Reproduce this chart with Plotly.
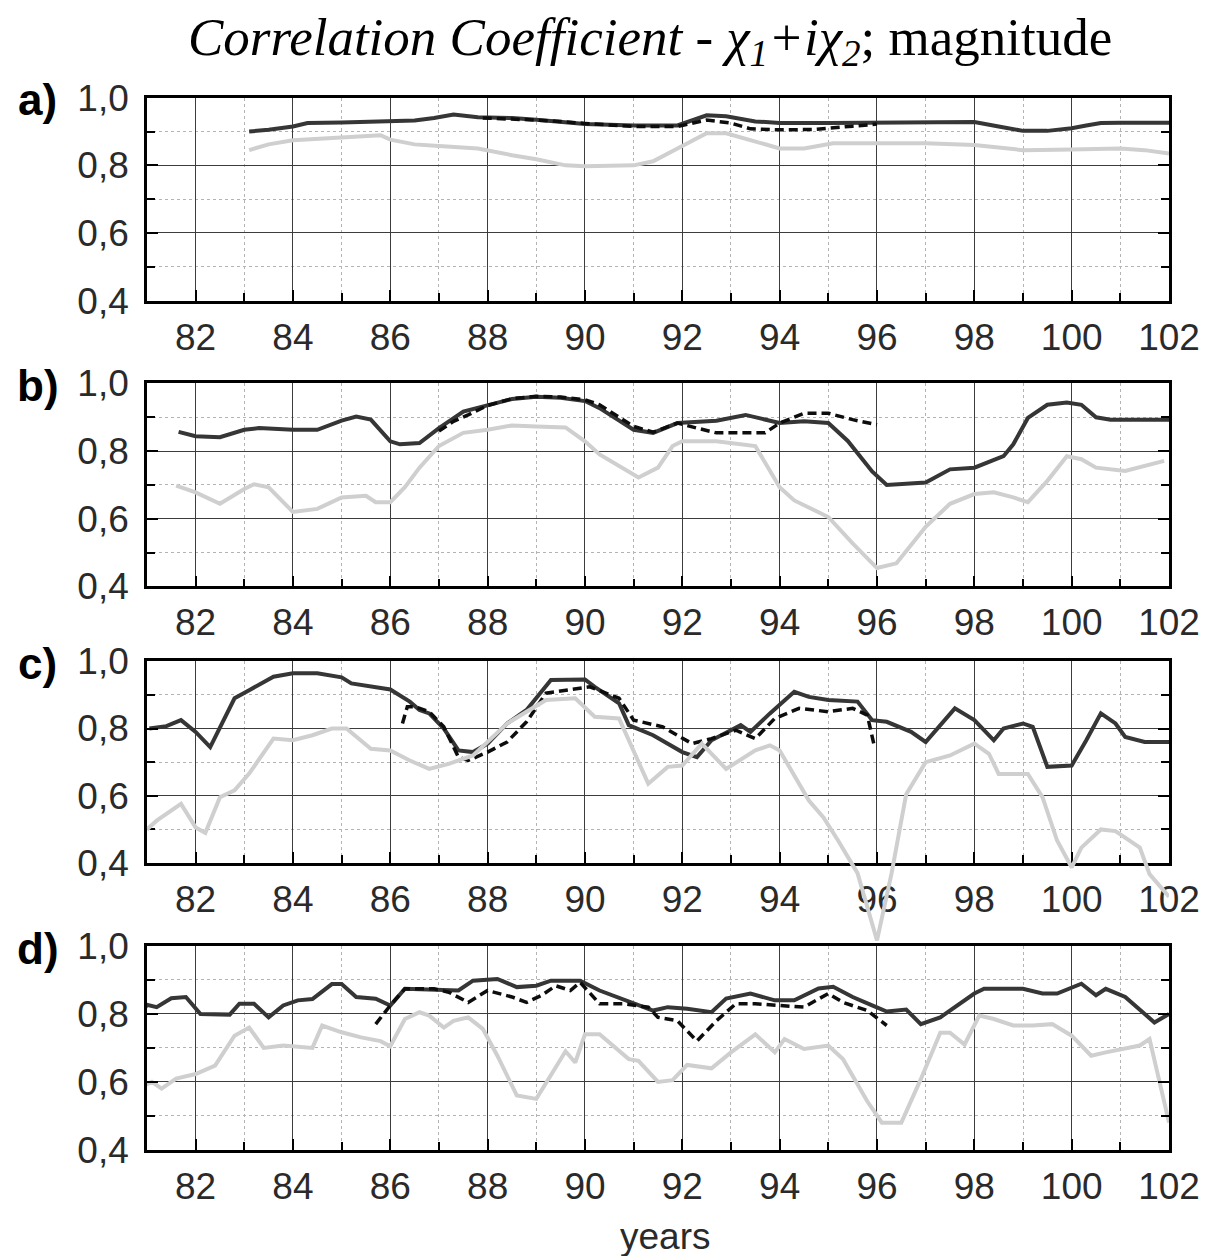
import plotly.graph_objects as go

# ---------------- tick labels / categories ----------------
year_ticks = [82, 84, 86, 88, 90, 92, 94, 96, 98, 100, 102]
year_labels = ["82", "84", "86", "88", "90", "92", "94", "96", "98", "100", "102"]
corr_ticks = [0.4, 0.6, 0.8, 1.0]
corr_labels = ["0,4", "0,6", "0,8", "1,0"]
panel_labels = ["a)", "b)", "c)", "d)"]

# ---------------- panel a ----------------
a_dark_x = [83.1, 83.5, 84.0, 84.3, 85.0, 86.0, 86.5, 86.9, 87.3, 87.8, 88.5, 89.0, 90.0, 91.0, 91.9, 92.5,
            92.9, 93.5, 94.0, 95.0, 96.0, 97.0, 98.0, 98.5, 99.0, 99.5, 100.0, 100.3, 100.6, 101.0, 102.0]
a_dark_y = [0.900, 0.905, 0.915, 0.925, 0.927, 0.930, 0.933, 0.940, 0.950, 0.942, 0.940, 0.935, 0.922, 0.918,
            0.918, 0.948, 0.945, 0.930, 0.925, 0.925, 0.926, 0.926, 0.928, 0.915, 0.902, 0.902, 0.910, 0.918,
            0.925, 0.926, 0.926]
a_light_x = [83.1, 83.5, 84.0, 85.0, 85.8, 86.0, 86.5, 87.0, 87.8, 88.5, 89.0, 89.6, 90.0, 91.0, 91.4, 91.9,
             92.5, 92.9, 93.5, 94.0, 94.5, 95.1, 96.0, 97.0, 98.0, 99.0, 100.0, 101.0, 101.5, 102.0]
a_light_y = [0.845, 0.862, 0.874, 0.881, 0.889, 0.876, 0.862, 0.857, 0.850, 0.830, 0.818, 0.800, 0.797, 0.800,
             0.812, 0.850, 0.895, 0.895, 0.870, 0.850, 0.850, 0.865, 0.865, 0.865, 0.860, 0.845, 0.847, 0.850,
             0.845, 0.835]
a_dash_x = [87.9, 88.5, 89.0, 89.5, 90.0, 91.0, 91.9, 92.5, 93.0, 93.4, 94.0, 94.7, 95.1, 95.5, 96.0]
a_dash_y = [0.940, 0.938, 0.934, 0.930, 0.924, 0.915, 0.915, 0.934, 0.925, 0.908, 0.905, 0.906, 0.912, 0.916,
            0.922]

# ---------------- panel b ----------------
b_dark_x = [81.65, 82.0, 82.5, 83.0, 83.3, 84.0, 84.5, 85.0, 85.3, 85.6, 86.0, 86.2, 86.6, 87.0, 87.5, 88.0,
            88.5, 89.0, 89.5, 90.0, 90.3, 91.0, 91.4, 91.9, 92.7, 93.3, 94.0, 94.5, 95.0, 95.4, 95.9, 96.2,
            97.0, 97.5, 98.0, 98.6, 98.8, 99.1, 99.5, 99.9, 100.2, 100.5, 100.8, 102.0]
b_dark_y = [0.857, 0.844, 0.841, 0.863, 0.868, 0.863, 0.863, 0.890, 0.902, 0.893, 0.829, 0.820, 0.824, 0.868,
            0.917, 0.937, 0.954, 0.961, 0.958, 0.948, 0.927, 0.863, 0.854, 0.883, 0.890, 0.907, 0.883, 0.888,
            0.883, 0.830, 0.740, 0.700, 0.707, 0.746, 0.751, 0.785, 0.820, 0.898, 0.937, 0.944, 0.937, 0.900,
            0.893, 0.893]
b_light_x = [81.6, 82.0, 82.5, 83.0, 83.2, 83.5, 84.0, 84.5, 85.0, 85.5, 85.7, 86.0, 86.3, 86.6, 87.0, 87.5,
             88.0, 88.5, 89.0, 89.6, 90.0, 90.3, 91.1, 91.5, 91.8, 92.0, 92.7, 93.5, 94.0, 94.3, 95.0, 95.5,
             96.0, 96.4, 97.0, 97.5, 98.0, 98.4, 98.8, 99.1, 99.5, 99.9, 100.2, 100.5, 101.1, 101.9]
b_light_y = [0.698, 0.678, 0.644, 0.688, 0.702, 0.693, 0.620, 0.629, 0.663, 0.668, 0.649, 0.649, 0.693, 0.751,
             0.815, 0.854, 0.863, 0.876, 0.873, 0.870, 0.829, 0.790, 0.722, 0.751, 0.815, 0.829, 0.829, 0.815,
             0.693, 0.654, 0.605, 0.527, 0.454, 0.468, 0.576, 0.644, 0.673, 0.678, 0.663, 0.649, 0.712, 0.785,
             0.776, 0.751, 0.741, 0.771]
b_dash_x = [87.0, 87.3, 87.6, 88.0, 88.5, 89.0, 89.5, 90.0, 90.3, 91.0, 91.4, 91.9, 92.3, 92.7, 93.7, 94.0,
            94.5, 95.0, 95.5, 96.0]
b_dash_y = [0.859, 0.888, 0.907, 0.935, 0.955, 0.962, 0.960, 0.952, 0.937, 0.873, 0.856, 0.883, 0.868, 0.854,
            0.854, 0.883, 0.912, 0.912, 0.893, 0.878]

# ---------------- panel c ----------------
c_dark_x = [81.05, 81.4, 81.7, 82.0, 82.3, 82.8, 83.1, 83.6, 84.0, 84.5, 85.0, 85.2, 86.0, 86.4, 86.6, 86.8,
            87.1, 87.4, 87.7, 88.0, 88.4, 88.8, 89.3, 90.0, 90.2, 90.7, 90.9, 91.4, 92.0, 92.3, 92.6, 93.2,
            93.4, 93.8, 94.3, 94.6, 95.0, 95.6, 95.9, 96.2, 96.7, 97.0, 97.6, 98.0, 98.4, 98.6, 99.0, 99.2,
            99.5, 100.0, 100.3, 100.6, 100.9, 101.1, 101.5, 102.0]
c_dark_y = [0.800, 0.807, 0.825, 0.790, 0.745, 0.890, 0.914, 0.954, 0.964, 0.964, 0.952, 0.934, 0.916, 0.880,
            0.855, 0.845, 0.800, 0.735, 0.730, 0.755, 0.815, 0.855, 0.944, 0.946, 0.924, 0.875, 0.810, 0.780,
            0.730, 0.715, 0.765, 0.810, 0.790, 0.845, 0.909, 0.894, 0.885, 0.880, 0.825, 0.820, 0.790, 0.760,
            0.860, 0.825, 0.765, 0.800, 0.815, 0.805, 0.686, 0.690, 0.765, 0.845, 0.815, 0.775, 0.760, 0.760]
c_light_x = [81.0, 81.2, 81.7, 82.0, 82.2, 82.5, 82.8, 83.1, 83.6, 84.0, 84.4, 84.8, 85.1, 85.6, 86.0, 86.4,
             86.8, 87.2, 87.7, 88.4, 89.2, 89.8, 90.2, 90.7, 91.3, 91.7, 92.0, 92.4, 92.9, 93.5, 93.8, 94.0,
             94.6, 94.9, 95.2, 95.6, 96.0, 96.3, 96.6, 97.0, 97.5, 98.0, 98.3, 98.5, 99.1, 99.4, 99.7,
             100.0, 100.2, 100.6, 100.9, 101.4, 101.6, 102.0]
c_light_y = [0.500, 0.526, 0.576, 0.506, 0.490, 0.596, 0.616, 0.666, 0.770, 0.765, 0.780, 0.800, 0.800, 0.740,
             0.735, 0.705, 0.680, 0.695, 0.720, 0.815, 0.885, 0.890, 0.835, 0.830, 0.636, 0.686, 0.690, 0.755,
             0.680, 0.735, 0.750, 0.735, 0.586, 0.536, 0.467, 0.370, 0.170, 0.370, 0.605, 0.700, 0.720,
             0.755, 0.725, 0.665, 0.665, 0.596, 0.467, 0.387, 0.446, 0.500, 0.495, 0.446, 0.367, 0.300]
c_dash_x = [86.25, 86.35, 86.5, 86.8, 87.1, 87.4, 87.6, 88.0, 88.4, 88.8, 89.2, 89.6, 90.1, 90.7, 91.0, 91.6,
            92.2, 92.6, 93.1, 93.5, 93.9, 94.4, 95.0, 95.5, 95.8, 95.95]
c_dash_y = [0.815, 0.865, 0.865, 0.850, 0.805, 0.715, 0.705, 0.730, 0.760, 0.820, 0.905, 0.914, 0.924, 0.890,
            0.825, 0.805, 0.755, 0.770, 0.795, 0.770, 0.830, 0.860, 0.850, 0.860, 0.840, 0.745]

# ---------------- panel d ----------------
d_dark_x = [80.8, 81.0, 81.2, 81.5, 81.8, 82.1, 82.7, 82.9, 83.2, 83.5, 83.8, 84.1, 84.4, 84.8, 85.0, 85.3,
            85.7, 86.0, 86.3, 86.9, 87.4, 87.7, 88.2, 88.6, 89.0, 89.3, 89.9, 90.3, 91.0, 91.4, 91.7, 92.1,
            92.6, 92.9, 93.4, 93.9, 94.3, 94.8, 95.1, 95.5, 95.9, 96.2, 96.6, 96.9, 97.3, 98.0, 98.2, 99.0,
            99.4, 99.7, 100.2, 100.5, 100.7, 101.1, 101.7, 102.0]
d_dark_y = [0.780, 0.827, 0.820, 0.846, 0.850, 0.800, 0.798, 0.830, 0.830, 0.790, 0.825, 0.840, 0.844, 0.888,
            0.888, 0.850, 0.845, 0.825, 0.874, 0.872, 0.869, 0.898, 0.903, 0.879, 0.883, 0.898, 0.898, 0.869,
            0.830, 0.810, 0.820, 0.815, 0.805, 0.845, 0.860, 0.840, 0.840, 0.875, 0.880, 0.850, 0.825, 0.807,
            0.813, 0.770, 0.790, 0.860, 0.874, 0.874, 0.860, 0.860, 0.889, 0.855, 0.874, 0.850, 0.775, 0.800]
d_light_x = [80.8, 81.1, 81.3, 81.6, 82.0, 82.4, 82.8, 83.1, 83.4, 83.8, 84.4, 84.6, 85.0, 85.4, 85.8, 86.0,
             86.3, 86.6, 86.8, 87.1, 87.3, 87.6, 87.9, 88.2, 88.6, 89.0, 89.4, 89.6, 89.8, 90.0, 90.3, 90.9,
             91.1, 91.5, 91.8, 92.1, 92.6, 93.0, 93.5, 93.9, 94.1, 94.5, 95.0, 95.3, 95.8, 96.1, 96.5, 96.9,
             97.3, 97.5, 97.8, 98.1, 98.4, 98.8, 99.2, 99.6, 100.0, 100.4, 100.7, 101.4, 101.6, 101.8, 102.0]
d_light_y = [0.580, 0.600, 0.580, 0.610, 0.623, 0.648, 0.736, 0.760, 0.700, 0.707, 0.700, 0.766, 0.746, 0.731,
             0.720, 0.705, 0.785, 0.805, 0.795, 0.760, 0.780, 0.790, 0.756, 0.677, 0.560, 0.550, 0.643, 0.690,
             0.657, 0.740, 0.740, 0.667, 0.662, 0.600, 0.605, 0.650, 0.640, 0.687, 0.740, 0.687, 0.726, 0.697,
             0.707, 0.667, 0.543, 0.480, 0.480, 0.608, 0.745, 0.745, 0.710, 0.795, 0.785, 0.766, 0.766, 0.770,
             0.736, 0.677, 0.687, 0.707, 0.726, 0.608, 0.480]
d_dash_x = [85.7, 86.0, 86.3, 86.9, 87.2, 87.6, 88.0, 88.5, 88.8, 89.1, 89.4, 89.7, 89.9, 90.3, 90.8, 91.3,
            91.5, 91.9, 92.3, 92.7, 93.1, 93.5, 94.0, 94.5, 95.0, 95.3, 95.8, 96.2]
d_dash_y = [0.770, 0.825, 0.874, 0.874, 0.864, 0.834, 0.869, 0.850, 0.834, 0.854, 0.883, 0.869, 0.893, 0.830,
            0.830, 0.820, 0.790, 0.780, 0.720, 0.780, 0.830, 0.830, 0.825, 0.820, 0.860, 0.834, 0.810, 0.766]

panels = [
    (a_light_x, a_light_y, a_dark_x, a_dark_y, a_dash_x, a_dash_y),
    (b_light_x, b_light_y, b_dark_x, b_dark_y, b_dash_x, b_dash_y),
    (c_light_x, c_light_y, c_dark_x, c_dark_y, c_dash_x, c_dash_y),
    (d_light_x, d_light_y, d_dark_x, d_dark_y, d_dash_x, d_dash_y),
]

# ---------------- layout geometry ----------------
# target positions are given in pixels of the 1213x1256 picture; the page is
# captured with a slight scale/offset, so convert them to figure pixels.
SX, SY, OY = 0.9755, 0.9686, 19.2
FW, FH = 1245, 1272


def fx(px):
    return (px / SX) / FW


def fy(py):
    return 1 - ((py - OY) / SY) / FH


X_DOM = [fx(147), fx(1169.5)]
PANEL_PX = [(97, 300), (383, 586), (661, 863), (946, 1150)]
Y_RANGE = [0.4, 1.0]
X_RANGE = [81, 102]

LIGHT = dict(color="#cfcfcf", width=4)
DARK = dict(color="#363636", width=4)
DASH = dict(color="#0d0d0d", width=3.5, dash="9px,5px")
TICKFONT = dict(family="Liberation Sans, Arial, sans-serif", size=37, color="#2a2a2a")

fig = go.Figure()
layout = dict(
    width=FW, height=FH, margin=dict(l=0, r=0, t=0, b=0, pad=0),
    paper_bgcolor="white", plot_bgcolor="rgba(0,0,0,0)", showlegend=False,
)

for i, (lx, ly, dx, dy, sx, sy) in enumerate(panels):
    n = i + 1
    top, bot = PANEL_PX[i]
    ydom = [fy(bot), fy(top)]
    xa = "xaxis" if n == 1 else f"xaxis{n}"
    ya = "yaxis" if n == 1 else f"yaxis{n}"
    xref = "x" if n == 1 else f"x{n}"
    yref = "y" if n == 1 else f"y{n}"
    layout[xa] = dict(
        domain=X_DOM, range=X_RANGE, anchor=yref,
        tickmode="array", tickvals=year_ticks, ticktext=year_labels,
        ticks="inside", ticklen=11, tickwidth=1.5, tickcolor="black",
        showline=True, linecolor="black", linewidth=2.5, mirror=True,
        showgrid=True, gridcolor="#3c3c3c", gridwidth=1, zeroline=False,
        minor=dict(dtick=1, tick0=81, ticks="inside", ticklen=8, tickwidth=1.5, tickcolor="black",
                   showgrid=True, gridcolor="#b4b4b4", griddash="dot", gridwidth=1),
        tickfont=TICKFONT, ticklabelstandoff=2,
    )
    layout[ya] = dict(
        domain=ydom, range=Y_RANGE, anchor=xref,
        tickmode="array", tickvals=corr_ticks, ticktext=corr_labels,
        ticks="inside", ticklen=11, tickwidth=1.5, tickcolor="black",
        showline=True, linecolor="black", linewidth=2.5, mirror="ticks",
        showgrid=True, gridcolor="#3c3c3c", gridwidth=1, zeroline=False,
        minor=dict(dtick=0.1, tick0=0.4, ticks="inside", ticklen=8, tickwidth=1.5, tickcolor="black",
                   showgrid=True, gridcolor="#b4b4b4", griddash="dot", gridwidth=1),
        tickfont=TICKFONT, ticklabelstandoff=8,
    )
    if n == 3:
        # light curve of panel c dips below the frame: draw it on an invisible twin
        # subplot with the same data->pixel mapping but a taller domain
        ext_low = 0.1
        span = (ydom[1] - ydom[0]) / (Y_RANGE[1] - Y_RANGE[0])
        layout["xaxis5"] = dict(domain=X_DOM, range=X_RANGE, anchor="y5", visible=False)
        layout["yaxis5"] = dict(domain=[ydom[1] - (Y_RANGE[1] - ext_low) * span, ydom[1]],
                                range=[ext_low, Y_RANGE[1]], anchor="x5", visible=False)
        fig.add_trace(go.Scatter(x=lx, y=ly, mode="lines", line=LIGHT, xaxis="x5", yaxis="y5"))
    else:
        fig.add_trace(go.Scatter(x=lx, y=ly, mode="lines", line=LIGHT, xaxis=xref, yaxis=yref))
    fig.add_trace(go.Scatter(x=dx, y=dy, mode="lines", line=DARK, xaxis=xref, yaxis=yref))
    fig.add_trace(go.Scatter(x=sx, y=sy, mode="lines", line=DASH, xaxis=xref, yaxis=yref))

annotations = []
for i, lab in enumerate(panel_labels):
    top, bot = PANEL_PX[i]
    annotations.append(dict(
        text=f"<b>{lab}</b>", xref="paper", yref="paper", x=fx(38), y=fy(top + 2),
        xanchor="center", yanchor="middle", showarrow=False,
        font=dict(family="Liberation Sans, Arial, sans-serif", size=44, color="black"),
    ))
annotations.append(dict(
    text="<i>Correlation Coefficient - χ<sub>1</sub>+iχ<sub>2</sub></i>; magnitude",
    xref="paper", yref="paper", x=fx(650), y=1 - 22 / FH, xanchor="center", yanchor="middle",
    showarrow=False, font=dict(family="Liberation Serif, Times New Roman, serif", size=53, color="black"),
))
annotations.append(dict(
    text="years", xref="paper", yref="paper", x=fx(665), y=fy(1237), xanchor="center",
    yanchor="middle", showarrow=False,
    font=dict(family="Liberation Sans, Arial, sans-serif", size=37, color="#2a2a2a"),
))
layout["annotations"] = annotations

fig.update_layout(**layout)
fig.write_html(
    "out.html",
    config={"displayModeBar": False},
    post_script="document.body.style.margin='0';document.body.style.overflow='hidden';"
                "document.documentElement.style.overflow='hidden';",
)
